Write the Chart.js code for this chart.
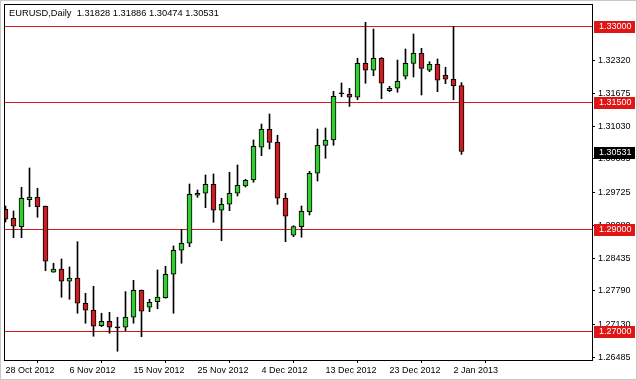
<!DOCTYPE html>
<html>
<head>
<meta charset="utf-8">
<script src="https://cdn.jsdelivr.net/npm/chart.js@4.4.1/dist/chart.umd.min.js"></script>
<style>
  html, body { margin: 0; padding: 0; background: #fff; }
</style>
</head>
<body>
<canvas id="candleChart" width="637" height="380"></canvas>
<script>
// EURUSD daily bars, 28 Oct 2012 - 3 Jan 2013 (Sunday bars included)
const dates = [
    '28 Oct 2012', '29 Oct 2012', '30 Oct 2012', '31 Oct 2012', '1 Nov 2012', '2 Nov 2012',
    '4 Nov 2012', '5 Nov 2012', '6 Nov 2012', '7 Nov 2012', '8 Nov 2012', '9 Nov 2012',
    '11 Nov 2012', '12 Nov 2012', '13 Nov 2012', '14 Nov 2012', '15 Nov 2012', '16 Nov 2012',
    '18 Nov 2012', '19 Nov 2012', '20 Nov 2012', '21 Nov 2012', '22 Nov 2012', '23 Nov 2012',
    '25 Nov 2012', '26 Nov 2012', '27 Nov 2012', '28 Nov 2012', '29 Nov 2012', '30 Nov 2012',
    '2 Dec 2012', '3 Dec 2012', '4 Dec 2012', '5 Dec 2012', '6 Dec 2012', '7 Dec 2012',
    '9 Dec 2012', '10 Dec 2012', '11 Dec 2012', '12 Dec 2012', '13 Dec 2012', '14 Dec 2012',
    '16 Dec 2012', '17 Dec 2012', '18 Dec 2012', '19 Dec 2012', '20 Dec 2012', '21 Dec 2012',
    '23 Dec 2012', '24 Dec 2012', '26 Dec 2012', '27 Dec 2012', '28 Dec 2012', '30 Dec 2012',
    '31 Dec 2012', '1 Jan 2013', '2 Jan 2013', '3 Jan 2013'
];

const openPrices = [
    1.29394, 1.29217, 1.29052, 1.29583, 1.29630, 1.29453, 1.28155, 1.28220, 1.27978, 1.28043,
    1.27545, 1.27408, 1.27105, 1.27191, 1.27062, 1.27073, 1.27270, 1.27801, 1.27467, 1.27577,
    1.27655, 1.28116, 1.28588, 1.28726, 1.29670, 1.29709, 1.29886, 1.29375, 1.29493, 1.29709,
    1.29853, 1.29971, 1.30614, 1.30968, 1.30712, 1.29611, 1.28883, 1.29052, 1.29347, 1.30103,
    1.30653, 1.30758, 1.31668, 1.31657, 1.31598, 1.32266, 1.32129, 1.32365, 1.31727, 1.31775,
    1.32011, 1.32266, 1.32463, 1.32129, 1.32247, 1.32030, 1.31952, 1.31828
];
const highPrices = [
    1.29459, 1.29361, 1.29827, 1.30207, 1.29808, 1.29459, 1.28332, 1.28417, 1.28260, 1.28757,
    1.27742, 1.27880, 1.27349, 1.27368, 1.27270, 1.27774, 1.27998, 1.27807, 1.27624, 1.28201,
    1.28273, 1.28673, 1.29001, 1.29892, 1.29774, 1.30069, 1.30089, 1.29611, 1.30122, 1.30266,
    1.29985, 1.30758, 1.31072, 1.31269, 1.30850, 1.29709, 1.29072, 1.29459, 1.30142, 1.30974,
    1.30994, 1.31715, 1.31879, 1.31775, 1.32365, 1.33073, 1.32941, 1.32380, 1.31814, 1.32331,
    1.32548, 1.32843, 1.32561, 1.32298, 1.32351, 1.32188, 1.32994, 1.31886
];
const lowPrices = [
    1.29144, 1.28836, 1.28836, 1.29446, 1.29237, 1.28187, 1.28155, 1.27663, 1.27624, 1.27349,
    1.27152, 1.26896, 1.27085, 1.26955, 1.26601, 1.27006, 1.27152, 1.26888, 1.27380, 1.27439,
    1.27644, 1.27349, 1.28332, 1.28659, 1.29630, 1.29426, 1.29139, 1.28777, 1.29367, 1.29656,
    1.29833, 1.29926, 1.30449, 1.30581, 1.29493, 1.28757, 1.28855, 1.28844, 1.29282, 1.29951,
    1.30398, 1.30653, 1.31609, 1.31418, 1.31550, 1.31873, 1.32022, 1.31570, 1.31707, 1.31696,
    1.31957, 1.31997, 1.31643, 1.32101, 1.31708, 1.31865, 1.31550, 1.30474
];
const closePrices = [
    1.29198, 1.29060, 1.29611, 1.29636, 1.29446, 1.28372, 1.28220, 1.27978, 1.28043, 1.27545,
    1.27408, 1.27093, 1.27191, 1.27073, 1.27062, 1.27270, 1.27801, 1.27388, 1.27565, 1.27669,
    1.28116, 1.28588, 1.28726, 1.29690, 1.29709, 1.29886, 1.29375, 1.29493, 1.29709, 1.29867,
    1.29965, 1.30634, 1.30968, 1.30712, 1.29611, 1.29257, 1.29052, 1.29355, 1.30103, 1.30653,
    1.30758, 1.31617, 1.31668, 1.31598, 1.32266, 1.32129, 1.32365, 1.31873, 1.31775, 1.31912,
    1.32266, 1.32463, 1.32168, 1.32247, 1.31932, 1.31952, 1.31826, 1.30531
];

// axis ticks shown by the terminal
const priceTicks = [1.32320, 1.31675, 1.31030, 1.30385, 1.29725, 1.29080, 1.28435, 1.27790, 1.27130, 1.26485];
const dateTickIdx = [0, 8, 16, 24, 32, 40, 48, 56];

// horizontal support / resistance lines
const levels = [1.33000, 1.31500, 1.29000, 1.27000];

const symbolTitle = 'EURUSD,Daily';
const FONT = '"Liberation Sans", Arial, sans-serif';

function candleColor(i) {
    if (closePrices[i] > openPrices[i]) return '#33cc33';
    if (closePrices[i] < openPrices[i]) return '#c81e24';
    return '#000000';
}

const chartDecor = {
    id: 'chartDecor',
    beforeDatasetsDraw(chart) {
        const { ctx, chartArea: a, scales: { y } } = chart;
        ctx.save();
        ctx.strokeStyle = '#d41a1a';
        ctx.lineWidth = 1;
        levels.forEach(function (v) {
            const py = Math.round(y.getPixelForValue(v)) + 0.5;
            ctx.beginPath();
            ctx.moveTo(a.left, py);
            ctx.lineTo(a.right, py);
            ctx.stroke();
        });
        ctx.restore();
    },
    afterDraw(chart) {
        const { ctx, chartArea: a, scales: { y } } = chart;
        const last = closePrices.length - 1;
        ctx.save();

        // plot frame
        ctx.strokeStyle = '#000';
        ctx.lineWidth = 1;
        ctx.strokeRect(a.left + 0.5, a.top + 0.5, a.right - a.left, a.bottom - a.top);

        // outer window frame
        ctx.strokeStyle = '#c8c8c8';
        ctx.strokeRect(0.5, 0.5, chart.width - 1, chart.height - 1);

        // price tags on the axis
        ctx.font = '9px ' + FONT;
        ctx.textBaseline = 'middle';
        ctx.textAlign = 'left';
        const tag = function (v, fill) {
            const py = Math.round(y.getPixelForValue(v));
            ctx.fillStyle = fill;
            ctx.fillRect(a.right + 2, py - 5, chart.width - a.right - 4, 12);
            ctx.fillStyle = '#fff';
            ctx.fillText(v.toFixed(5), a.right + 7, py + 1);
        };
        levels.forEach(function (v) { tag(v, '#e01515'); });
        tag(closePrices[last], '#000');

        // header line
        ctx.fillStyle = '#000';
        ctx.font = '9.3px ' + FONT;
        const ohlc = [openPrices[last], highPrices[last], lowPrices[last], closePrices[last]]
            .map(function (v) { return v.toFixed(5); }).join(' ');
        ctx.fillText(symbolTitle + '  ' + ohlc, 9, 13);
        ctx.restore();
    }
};

const ctx = document.getElementById('candleChart').getContext('2d');
const candleChart = new Chart(ctx, {
    type: 'bar',
    data: {
        datasets: [
            {
                label: 'Body',
                data: dates.map(function (d, i) { return { x: i, y: [openPrices[i], closePrices[i]] }; }),
                backgroundColor: dates.map(function (d, i) { return candleColor(i); }),
                borderColor: '#000',
                borderWidth: 1,
                borderSkipped: false,
                barThickness: 5,
                minBarLength: 1,
                grouped: false,
                clip: 0,
                order: 0
            },
            {
                label: 'Wick',
                data: dates.map(function (d, i) { return { x: i, y: [lowPrices[i], highPrices[i]] }; }),
                backgroundColor: '#000',
                borderWidth: 0,
                barThickness: 1,
                grouped: false,
                clip: 0,
                order: 1
            }
        ]
    },
    plugins: [chartDecor],
    options: {
        responsive: false,
        animation: false,
        devicePixelRatio: 1,
        layout: { padding: { left: 4, top: 4, right: 0, bottom: 0 } },
        plugins: {
            legend: { display: false },
            tooltip: { enabled: false },
            title: { display: false }
        },
        scales: {
            x: {
                type: 'linear',
                min: -0.1875,
                max: 73.3125,
                offset: false,
                afterBuildTicks: function (axis) {
                    axis.ticks = dateTickIdx.map(function (v) { return { value: v }; });
                },
                afterFit: function (axis) {
                    axis.height = 20;
                    axis.paddingLeft = 0;
                    axis.paddingRight = 0;
                },
                ticks: {
                    autoSkip: false,
                    maxRotation: 0,
                    align: 'start',
                    padding: 2,
                    color: '#000',
                    font: { family: FONT, size: 9 },
                    callback: function (v) { return dates[v]; }
                },
                grid: { drawOnChartArea: false, drawTicks: true, tickLength: 3, tickColor: '#000' },
                border: { display: true, color: '#000' }
            },
            y: {
                type: 'linear',
                position: 'right',
                min: 1.26429,
                max: 1.33433,
                afterBuildTicks: function (axis) {
                    axis.ticks = priceTicks.map(function (v) { return { value: v }; });
                },
                afterFit: function (axis) {
                    axis.width = 45;
                    axis.paddingTop = 0;
                    axis.paddingBottom = 0;
                },
                ticks: {
                    padding: 3,
                    color: '#000',
                    font: { family: FONT, size: 9 },
                    callback: function (v) { return v.toFixed(5); }
                },
                grid: { drawOnChartArea: false, drawTicks: true, tickLength: 3, tickColor: '#000' },
                border: { display: true, color: '#000' }
            }
        }
    }
});
</script>
</body>
</html>
